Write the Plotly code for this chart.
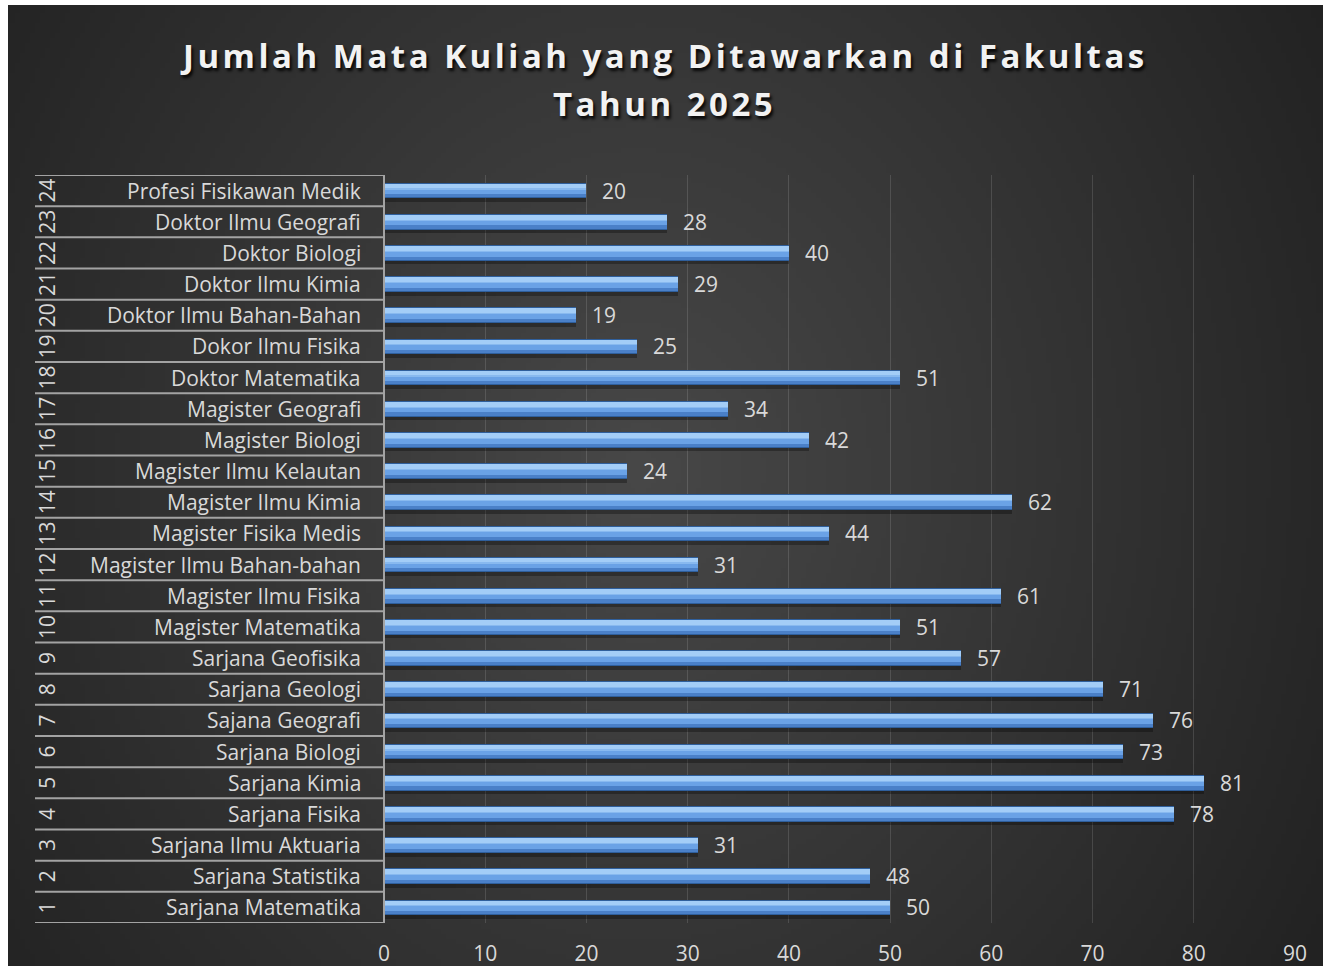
import base64
import struct
import zlib

import numpy as np
import plotly.graph_objects as go

# ---- data -------------------------------------------------------------
row_numbers = list(range(1, 25))
program_names = [
    "Sarjana Matematika", "Sarjana Statistika", "Sarjana Ilmu Aktuaria",
    "Sarjana Fisika", "Sarjana Kimia", "Sarjana Biologi", "Sajana Geografi",
    "Sarjana Geologi", "Sarjana Geofisika", "Magister Matematika",
    "Magister Ilmu Fisika", "Magister Ilmu Bahan-bahan", "Magister Fisika Medis",
    "Magister Ilmu Kimia", "Magister Ilmu Kelautan", "Magister Biologi",
    "Magister Geografi", "Doktor Matematika", "Dokor Ilmu Fisika",
    "Doktor Ilmu Bahan-Bahan", "Doktor Ilmu Kimia", "Doktor Biologi",
    "Doktor Ilmu Geografi", "Profesi Fisikawan Medik",
]
course_counts = [50, 48, 31, 78, 81, 73, 76, 71, 57, 51, 61, 31, 44, 62,
                 24, 42, 34, 51, 25, 19, 29, 40, 28, 20]
x_ticks = list(range(0, 100, 10))

TITLE_LINES = ["Jumlah Mata Kuliah yang Ditawarkan di Fakultas", "Tahun 2025"]
FONT = "Open Sans"
TEXT_COLOR = "#d9d9d9"
LINE_COLOR = "#a3a3a3"
LABEL_SIZE = 21

W, H = 1323, 966
M_L, M_R, M_T, M_B = 384, 28, 175, 43
PLOT_W = W - M_L - M_R
PLOT_H = H - M_T - M_B


def px_to_paper_x(px):
    return (px - M_L) / PLOT_W


def px_to_paper_y(py):
    return (H - M_B - py) / PLOT_H


# ---- dark radial background as a small PNG --------------------------------
def png_data_uri(arr):
    h, w, _ = arr.shape
    raw = b"".join(b"\x00" + arr[i].tobytes() for i in range(h))

    def chunk(tag, data):
        body = tag + data
        return (struct.pack(">I", len(data)) + body
                + struct.pack(">I", zlib.crc32(body) & 0xFFFFFFFF))

    png = (b"\x89PNG\r\n\x1a\n"
           + chunk(b"IHDR", struct.pack(">IIBBBBB", w, h, 8, 2, 0, 0, 0))
           + chunk(b"IDAT", zlib.compress(raw, 9))
           + chunk(b"IEND", b""))
    return "data:image/png;base64," + base64.b64encode(png).decode()


BG_X0, BG_Y0 = 8, 5
bg_w, bg_h = W - BG_X0, H - BG_Y0
gw, gh = 263, 192
gx = np.linspace(0, bg_w, gw)[None, :] + BG_X0
gy = np.linspace(0, bg_h, gh)[:, None] + BG_Y0
dist = np.sqrt(((gx - 640) / 760) ** 2 + ((gy - 470) / 900) ** 2)
shade = 72 - 36 * np.clip(dist, 0, 1.1)
shade = np.clip(shade, 30, 80).astype(np.uint8)
bg = np.repeat(shade[:, :, None], 3, axis=2)
bg_uri = png_data_uri(np.ascontiguousarray(bg))

# ---- bars: layered strips give the bevelled look ---------------------------
fig = go.Figure()
layers = [
    # (offset, width, colour)
    (-0.37, 0.14, "rgba(0,0,0,0.30)"),   # soft drop shadow
    (-0.25, 0.50, "#2f5f9c"),            # dark rim
    (-0.22, 0.44, "#4a80c8"),            # lower body
    (-0.12, 0.30, "#6aa2e6"),            # main face
    (0.03, 0.08, "#88b9ef"),             # blend into highlight
    (0.07, 0.15, "#a3cdf7"),             # highlight
]
for off, wid, col in layers:
    fig.add_trace(go.Bar(
        x=course_counts, y=row_numbers, orientation="h",
        offset=off, width=wid,
        marker=dict(color=col, line=dict(width=0)),
        hoverinfo="skip", showlegend=False,
    ))

# value labels
for n, v in zip(row_numbers, course_counts):
    fig.add_annotation(x=v, y=n, xref="x", yref="y", text=str(v),
                       showarrow=False, xanchor="left", yanchor="middle",
                       xshift=14,
                       font=dict(family=FONT, size=LABEL_SIZE, color=TEXT_COLOR))

# category labels (row number rotated + program name)
for n, name in zip(row_numbers, program_names):
    fig.add_annotation(x=px_to_paper_x(363), y=n, xref="paper", yref="y",
                       text=name, showarrow=False, xanchor="right",
                       yanchor="middle",
                       font=dict(family=FONT, size=LABEL_SIZE, color=TEXT_COLOR))
    fig.add_annotation(x=px_to_paper_x(47), y=n, xref="paper", yref="y",
                       text=str(n), showarrow=False, textangle=-90,
                       xanchor="center", yanchor="middle",
                       font=dict(family=FONT, size=LABEL_SIZE, color=TEXT_COLOR))

# row separators in the label area
for k in range(len(row_numbers) + 1):
    yb = k + 0.5
    fig.add_shape(type="line", xref="paper", yref="y",
                  x0=px_to_paper_x(35), x1=0, y0=yb, y1=yb,
                  line=dict(color=LINE_COLOR, width=2))

# chart title, two lines with open letter spacing, centred on the chart
title_font = dict(family=FONT, size=33, color="#f2f2f2", weight="bold",
                  shadow="2px 3px 3px rgba(0,0,0,0.85)")
for line, ypx in zip(TITLE_LINES, [56, 104]):
    fig.add_annotation(
        x=px_to_paper_x(664), xref="paper", y=px_to_paper_y(ypx), yref="paper",
        text=f'<span style="letter-spacing:3.5px">{line}</span>',
        showarrow=False, xanchor="center", yanchor="middle",
        font=title_font,
    )

fig.update_layout(
    width=W, height=H,
    margin=dict(l=M_L, r=M_R, t=M_T, b=M_B, pad=0, autoexpand=False),
    paper_bgcolor="white",
    plot_bgcolor="rgba(0,0,0,0)",
    barmode="overlay",
    bargap=0,
    xaxis=dict(
        range=[0, 90], tickvals=x_ticks, showgrid=True,
        gridcolor="rgba(255,255,255,0.13)", gridwidth=1,
        zeroline=False, showline=False, ticks="",
        ticklabelstandoff=16, automargin=False,
        tickfont=dict(family=FONT, size=LABEL_SIZE, color=TEXT_COLOR),
        fixedrange=True,
    ),
    yaxis=dict(
        range=[0.5, 24.5], showticklabels=False, showgrid=False,
        zeroline=False, showline=False, ticks="", fixedrange=True,
        automargin=False,
    ),
    images=[dict(
        source=bg_uri, xref="paper", yref="paper",
        x=px_to_paper_x(BG_X0), y=px_to_paper_y(BG_Y0),
        sizex=bg_w / PLOT_W, sizey=bg_h / PLOT_H,
        xanchor="left", yanchor="top", sizing="stretch", layer="below",
    )],
    showlegend=False,
)

# axis line on the left edge of the bars
fig.add_shape(type="line", xref="paper", yref="paper", x0=0, x1=0, y0=0, y1=1,
              line=dict(color=LINE_COLOR, width=2))

fig.write_html("out.html")
